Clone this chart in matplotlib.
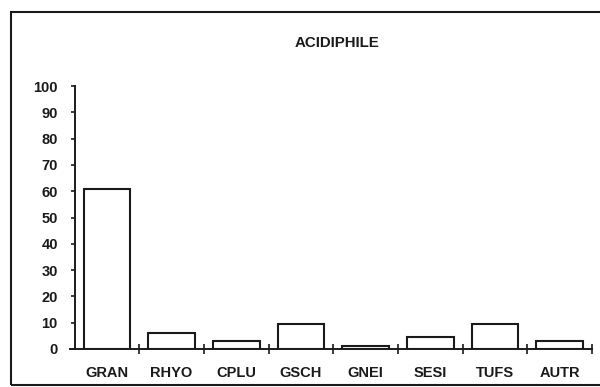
import matplotlib
matplotlib.use("Agg")
import matplotlib.pyplot as plt
from matplotlib.patches import Rectangle

categories = ["GRAN", "RHYO", "CPLU", "GSCH", "GNEI", "SESI", "TUFS", "AUTR"]
values = [61, 6, 3, 9.4, 1.3, 4.7, 9.5, 3.1]
yticks = [0, 10, 20, 30, 40, 50, 60, 70, 80, 90, 100]
title = "ACIDIPHILE"

ink = "#1a1a1a"
plt.rcParams['font.family'] = ['Liberation Sans', 'DejaVu Sans']

fig = plt.figure(figsize=(6, 3.87), dpi=100)
fig.patch.set_facecolor("white")
ax = fig.add_axes([70/600, (387-349)/387, (592-70)/600, (349-86)/387])

x = list(range(len(categories)))
ax.bar(x, values, width=0.72, facecolor="white", edgecolor=ink, linewidth=1.5, zorder=3)

ax.set_xlim(-0.57, 7.5)
ax.set_ylim(0, 100)
ax.spines['top'].set_visible(False)
ax.spines['right'].set_visible(False)
ax.spines['left'].set_position(('data', -0.5))
for s in ('left', 'bottom'):
    ax.spines[s].set_color(ink)
    ax.spines[s].set_linewidth(1.4)

fs = 10.5
ax.set_yticks(yticks)
ax.set_yticklabels([str(v) for v in yticks], fontsize=fs, fontweight='bold', color=ink)
ax.tick_params(axis='y', direction='out', length=3, width=1.2, color=ink, pad=9)

ax.set_xticks([i + 0.5 for i in x])
ax.set_xticklabels([])
ax.tick_params(axis='x', direction='inout', length=7, width=1.2, color=ink)
for i, c in enumerate(categories):
    ax.text(i, -9, c, ha='center', va='center', fontsize=fs, fontweight='bold', color=ink)

fig.text(337/600, 1 - 43/387, title, ha='center', va='center', fontsize=10.8, fontweight='bold', color=ink)

fig.patches.append(Rectangle((11/600, 2/387), 1.0, (385-12)/387, transform=fig.transFigure,
                             fill=False, edgecolor=ink, linewidth=1.5))

fig.savefig("out.png", dpi=100, facecolor="white")
